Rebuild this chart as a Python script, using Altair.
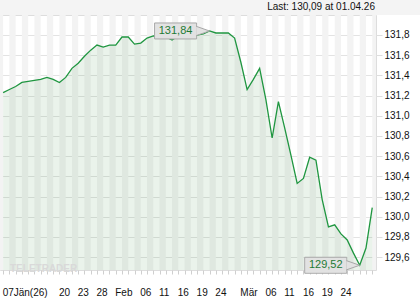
import altair as alt
import pandas as pd

dates = ["07.01.26","08.01.26","09.01.26","12.01.26","13.01.26","14.01.26","15.01.26","16.01.26","19.01.26","20.01.26",
         "21.01.26","22.01.26","23.01.26","26.01.26","27.01.26","28.01.26","29.01.26","30.01.26",
         "02.02.26","03.02.26","04.02.26","05.02.26","06.02.26","09.02.26","10.02.26","11.02.26","12.02.26","13.02.26",
         "16.02.26","17.02.26","18.02.26","19.02.26","20.02.26","23.02.26","24.02.26","25.02.26","26.02.26","27.02.26",
         "02.03.26","03.03.26","04.03.26","05.03.26","06.03.26","09.03.26","10.03.26","11.03.26","12.03.26","13.03.26",
         "16.03.26","17.03.26","18.03.26","19.03.26","20.03.26","23.03.26","24.03.26","25.03.26","26.03.26","27.03.26",
         "30.03.26","01.04.26"]
values = [131.23,131.26,131.29,131.33,131.34,131.35,131.36,131.38,131.36,131.33,
          131.38,131.47,131.52,131.59,131.65,131.70,131.68,131.70,131.70,131.78,
          131.78,131.71,131.72,131.77,131.79,131.79,131.78,131.75,131.79,131.79,
          131.79,131.80,131.81,131.84,131.82,131.82,131.82,131.77,131.53,131.26,
          131.36,131.47,131.16,130.78,131.14,130.88,130.61,130.33,130.38,130.59,
          130.56,130.17,129.90,129.92,129.83,129.77,129.64,129.52,129.69,130.09]
tick_idx = [0, 9, 12, 15, 18, 22, 25, 28, 31, 34, 38, 42, 45, 48, 51, 54]
tick_text = ["07Jän(26)", "20", "23", "28", "Feb", "06", "11", "16", "19", "24",
             "Mär", "06", "11", "16", "19", "24"]
y_ticks = [129.6, 129.8, 130.0, 130.2, 130.4, 130.6, 130.8, 131.0, 131.2, 131.4, 131.6, 131.8]

n = len(values)
XMIN, XMAX = -0.5, n - 0.4
YMIN, YMAX = 129.473, 131.998

df = pd.DataFrame({"i": list(range(n)), "v": values, "d": dates})

# alternating day stripes
s_start, s_end = [XMIN], [0.0]
for i in range(1, n, 2):
    s_start.append(float(i))
    s_end.append(min(i + 1.0, XMAX))
stripes = pd.DataFrame({"a": s_start, "b": s_end})

imax = values.index(max(values))
imin = values.index(min(values))
fmt = lambda v: f"{v:.2f}".replace(".", ",")
ann = pd.DataFrame({"i": [imax, imin], "v": [values[imax], values[imin]],
                    "t": [fmt(values[imax]), fmt(values[imin])]})

labels_all = [""] * n
for k, t in zip(tick_idx, tick_text):
    labels_all[k] = t
label_expr = "[" + ",".join(f"'{t}'" for t in labels_all) + "][round(datum.value)]"

xs = alt.Scale(domain=[XMIN, XMAX], nice=False, zero=False)
ys = alt.Scale(domain=[YMIN, YMAX], nice=False, zero=False)

x_axis = alt.Axis(values=list(range(n)), labelExpr=label_expr, labelAlign="left",
                  labelOverlap=False, labelBound=False, labelFlush=False,
                  labelPadding=13, tickSize=4, tickColor="#cfcfcf", domain=False, grid=False,
                  labelFont="Liberation Sans", labelFontSize=10, labelColor="#111", labelOffset=-1, title=None)
y_axis = alt.Axis(orient="right", values=y_ticks, labelExpr="replace(format(datum.value, '.1f'), '.', ',')",
                  tickSize=6, tickColor="#dedede", gridColor="#e3e3e3", grid=True, domain=False,
                  labelOverlap=False, labelBound=False, labelFlush=False,
                  labelFont="Liberation Sans", labelFontSize=10, labelColor="#111", labelPadding=2, title=None)

X = lambda f: alt.X(f, scale=xs, axis=x_axis)
Y = lambda f: alt.Y(f, scale=ys, axis=y_axis)

one = stripes.iloc[:1]

bg_top = alt.Chart(one).mark_rect(color="#f4f4f4").encode(
    x=alt.value(0), x2=alt.value(420), y=alt.value(-15), y2=alt.value(0)
)

stripe_layer = alt.Chart(stripes).mark_rect(color="#f3f3f3").encode(
    x=X("a:Q"), x2="b:Q", y=alt.value(0), y2=alt.value(255)
)

base = alt.Chart(df)
area = base.mark_area(color="#2e8b3a", opacity=0.1).encode(
    x=X("i:Q"), y=Y("v:Q"), y2=alt.datum(YMIN)
)
line = base.mark_line(color="#1f9640", strokeWidth=1.3).encode(
    x=X("i:Q"), y=Y("v:Q")
)

title_text = f"Last: {fmt(values[-1])} at {dates[-1]}"
title = alt.Chart(one).mark_text(
    text=title_text, font="Liberation Sans", fontSize=10, color="#111",
    align="right", baseline="middle"
).encode(x=alt.value(375), y=alt.value(-8))

watermark = alt.Chart(one).mark_text(
    text="TELETRADER", font="Liberation Sans", fontSize=10, fontWeight="bold",
    color="#d9d9d9", align="left", baseline="middle"
).encode(x=alt.value(10), y=alt.value(254))

annb = alt.Chart(ann)
box = annb.mark_rect(fill="#e2e2e2", stroke="#a8a8a8", strokeWidth=1,
                     xOffset=-55, x2Offset=-13, yOffset=-8, y2Offset=8).encode(
    x=X("i:Q"), x2="i:Q", y=Y("v:Q"), y2="v:Q"
)
pointer = annb.mark_point(shape="M -1 -0.7 L 1 0 L -1 0.7 Z", filled=True, fill="#e2e2e2",
                          stroke="#a8a8a8", strokeWidth=1, opacity=1, size=190, xOffset=-7).encode(
    x=X("i:Q"), y=Y("v:Q")
)
box2 = annb.mark_rect(fill="#e2e2e2", xOffset=-54, x2Offset=-13.5, yOffset=-7, y2Offset=7).encode(
    x=X("i:Q"), x2="i:Q", y=Y("v:Q"), y2="v:Q"
)
ann_text = annb.mark_text(font="Liberation Sans", fontSize=11, color="#1e7a34",
                          dx=-34, align="center", baseline="middle").encode(
    x=X("i:Q"), y=Y("v:Q"), text="t:N"
)

chart = alt.layer(
    bg_top, stripe_layer, area, line, watermark, box, pointer, box2, ann_text, title
).properties(
    width=376, height=255,
    padding={"left": 0, "top": 15, "right": 44, "bottom": 30},
    autosize=alt.AutoSizeParams(type="none"),
).configure_view(stroke=None).configure(background="white")

chart.save("out.html", embed_options={"renderer": "svg", "actions": False})
